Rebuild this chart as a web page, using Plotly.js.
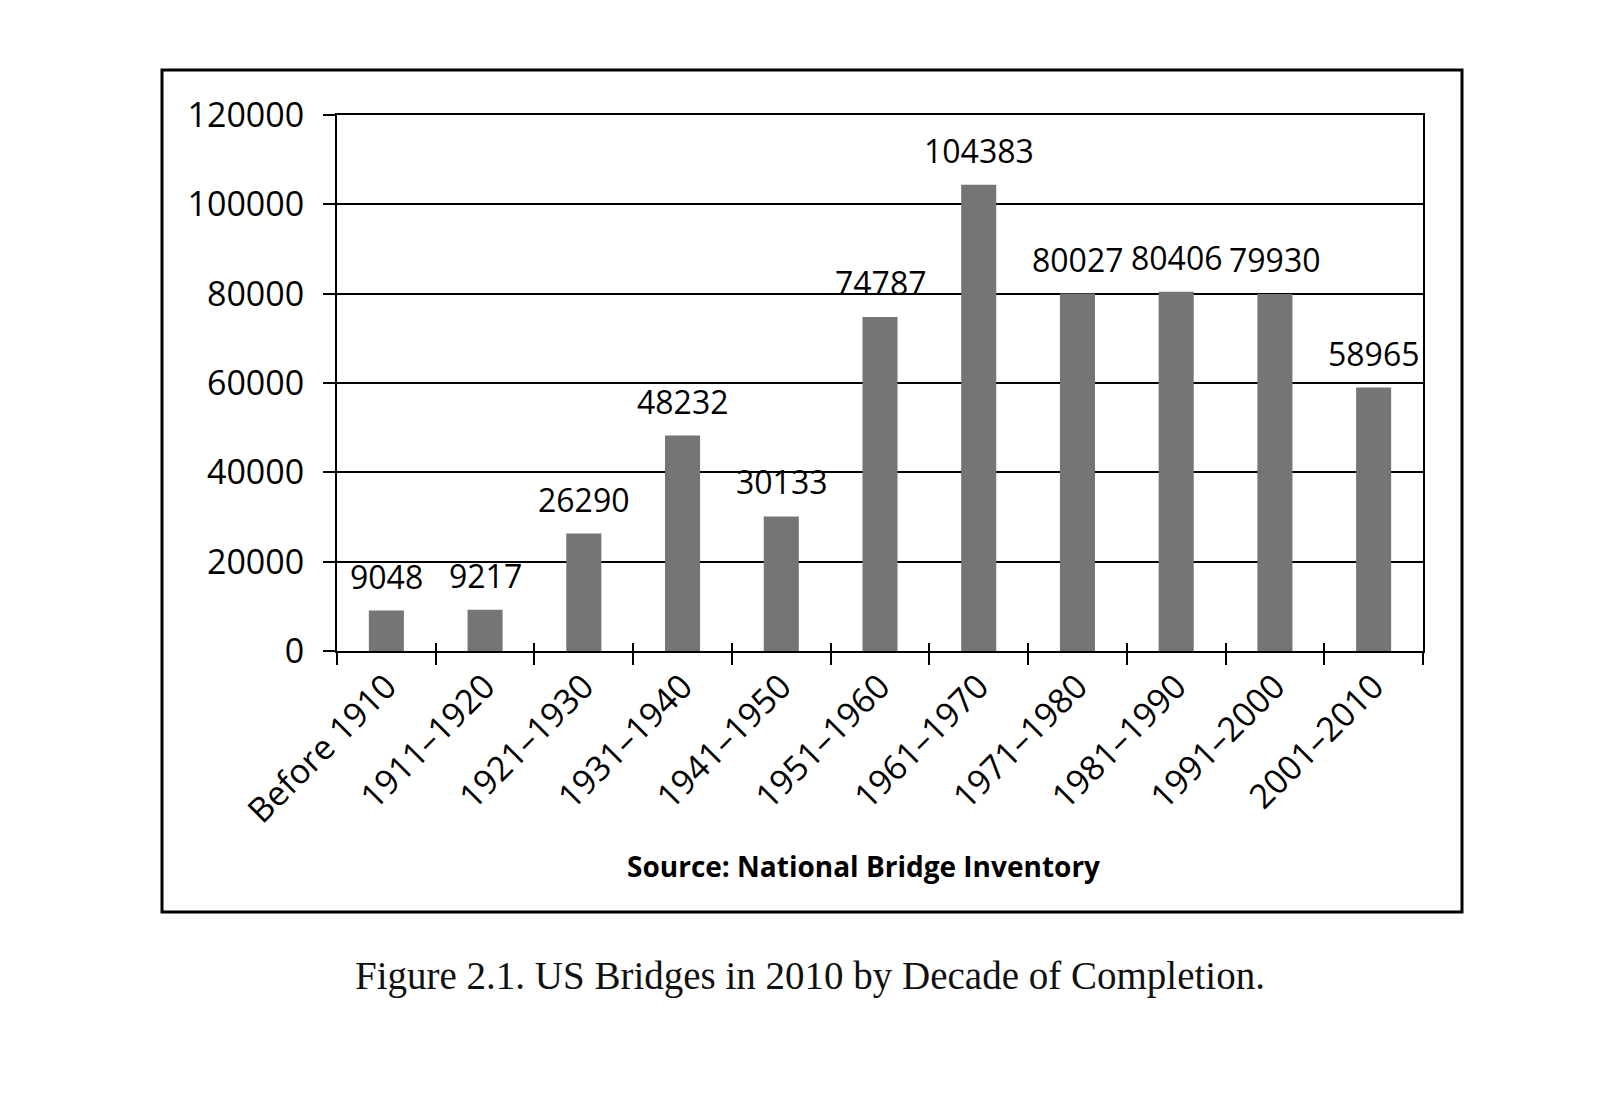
<!DOCTYPE html>
<html>
<head>
<meta charset="utf-8">
<script src="https://cdn.plot.ly/plotly-3.0.1.min.js"></script>
<style>
html,body{margin:0;padding:0;background:#fff;}
#chart{width:1600px;height:1106px;}
</style>
</head>
<body>
<div id="chart"></div>
<script>
const categories = ["Before 1910","1911–1920","1921–1930","1931–1940","1941–1950","1951–1960","1961–1970","1971–1980","1981–1990","1991–2000","2001–2010"];
const bridgeCounts = [9048, 9217, 26290, 48232, 30133, 74787, 104383, 80027, 80406, 79930, 58965];
const yTickValues = [0, 20000, 40000, 60000, 80000, 100000, 120000];
const sourceText = "Source: National Bridge Inventory";
const captionText = "Figure 2.1. US Bridges in 2010 by Decade of Completion.";

const W = 1600, H = 1106;
const L = 337, R = 1423, T = 115, B = 651;
const pw = R - L, ph = B - T;
const px = x => (x - L) / pw;
const py = y => (B - y) / ph;

const axisFont = {family: "Open Sans, Noto Sans, sans-serif", size: 34, color: "#000"};
const valueFont = {family: "Open Sans, Noto Sans, sans-serif", size: 32, color: "#000"};

const barTrace = {
  type: "bar",
  x: categories,
  y: bridgeCounts,
  marker: {color: "#757575", line: {width: 0}},
  hoverinfo: "x+y",
  showlegend: false
};

const annotations = categories.map((c, i) => ({
  x: c, y: bridgeCounts[i], xref: "x", yref: "y",
  text: String(bridgeCounts[i]),
  showarrow: false, yanchor: "bottom", yshift: 11,
  font: valueFont
}));
annotations.push({
  xref: "paper", yref: "paper", x: px(863), y: py(866),
  xanchor: "center", yanchor: "middle", showarrow: false,
  text: "<b>" + sourceText + "</b>",
  font: {family: "Open Sans, Noto Sans, sans-serif", size: 28, color: "#000"}
});
annotations.push({
  xref: "paper", yref: "paper", x: px(810), y: py(976),
  xanchor: "center", yanchor: "middle", showarrow: false,
  text: captionText,
  font: {family: "Liberation Serif, DejaVu Serif, serif", size: 39, color: "#111"}
});

const layout = {
  width: W, height: H,
  margin: {l: L, r: W - R, t: T, b: H - B, pad: 0},
  paper_bgcolor: "#fff", plot_bgcolor: "#fff",
  bargap: 0.645,
  font: axisFont,
  xaxis: {
    type: "category",
    categoryorder: "array", categoryarray: categories,
    range: [-0.5, categories.length - 0.5],
    showline: true, linecolor: "#000", linewidth: 2, mirror: true,
    ticks: "outside", tickson: "boundaries", ticklen: 12, tickwidth: 2, tickcolor: "#000",
    tickangle: -45, tickfont: axisFont,
    showgrid: false, zeroline: false, fixedrange: true
  },
  xaxis2: {
    overlaying: "x", anchor: "y", side: "bottom",
    type: "linear", range: [-0.5, categories.length - 0.5],
    tick0: -0.5, dtick: 1,
    ticks: "inside", ticklen: 8, tickwidth: 2, tickcolor: "#000",
    showticklabels: false, showgrid: false, zeroline: false, showline: false, fixedrange: true
  },
  yaxis: {
    range: [0, 120000],
    tickvals: yTickValues, ticktext: yTickValues.map(String),
    showline: true, linecolor: "#000", linewidth: 2, mirror: true,
    ticks: "outside", ticklen: 12, tickwidth: 2, tickcolor: "#000",
    ticklabelstandoff: 12,
    tickfont: axisFont,
    showgrid: true, gridcolor: "#000", gridwidth: 2,
    zeroline: false, fixedrange: true
  },
  shapes: [{
    type: "rect", xref: "paper", yref: "paper",
    x0: px(162), x1: px(1462), y0: py(912), y1: py(70),
    line: {color: "#000", width: 3}, fillcolor: "rgba(0,0,0,0)", layer: "above"
  }],
  annotations: annotations
};

const dummyAxisTrace = {type: "scatter", x: [], y: [], xaxis: "x2", yaxis: "y", showlegend: false, hoverinfo: "skip"};

Plotly.newPlot("chart", [barTrace, dummyAxisTrace], layout, {displayModeBar: false, staticPlot: true});
</script>
</body>
</html>
